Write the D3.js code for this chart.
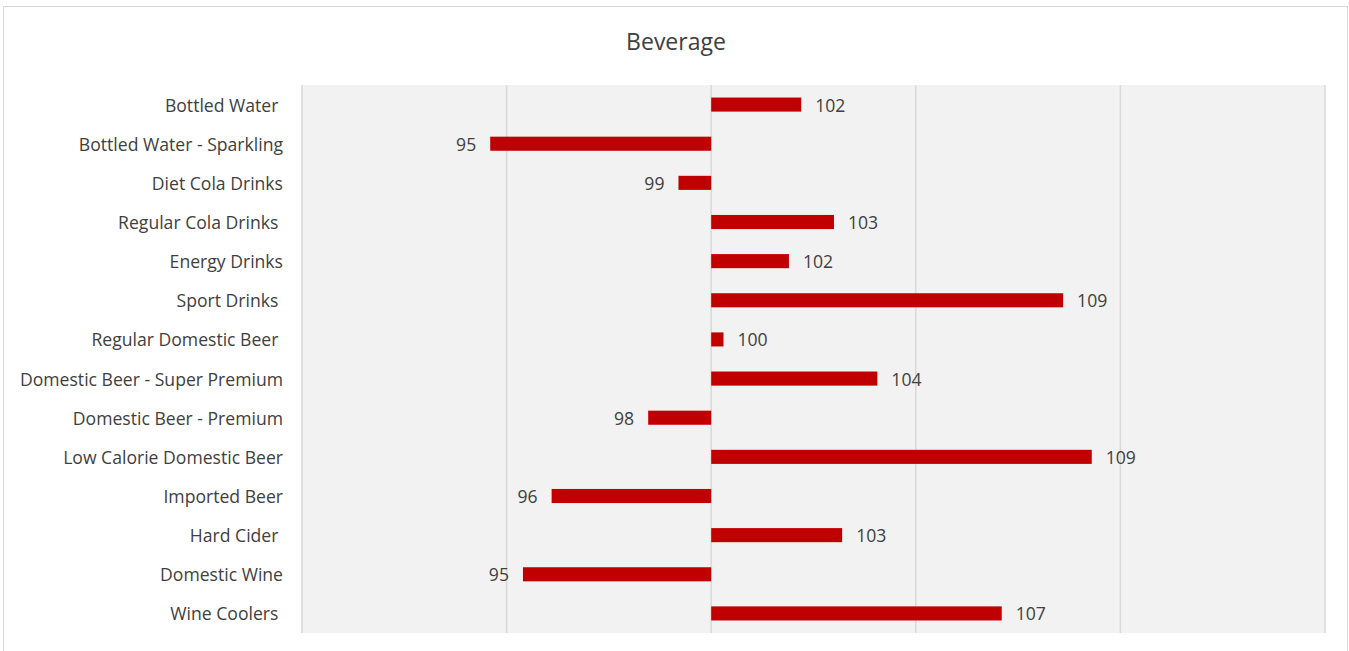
<!DOCTYPE html>
<html><head><meta charset="utf-8">
<script src="https://cdn.jsdelivr.net/npm/d3@7"></script>
<style>
html,body{margin:0;padding:0;background:#fff;}
svg{display:block;}
text{font-family:"Open Sans",sans-serif;fill:#404040;white-space:pre;}
</style></head>
<body>
<svg id="c" width="1349" height="651"></svg>
<script>
const categories = ["Bottled Water ","Bottled Water - Sparkling","Diet Cola Drinks","Regular Cola Drinks ","Energy Drinks","Sport Drinks ","Regular Domestic Beer ","Domestic Beer - Super Premium","Domestic Beer - Premium","Low Calorie Domestic Beer","Imported Beer","Hard Cider ","Domestic Wine","Wine Coolers "];
const values = [102.2,94.6,99.2,103.0,101.9,108.6,100.3,104.06,98.46,109.3,96.1,103.2,95.4,107.1];
const gridTicks = [90,95,100,105,110,115];
const title = "Beverage";
const baseline = 100;

const svg = d3.select("#c");
svg.append("rect").attr("x",3.5).attr("y",6.5).attr("width",1344).attr("height",650).attr("fill","#fff").attr("stroke","#d9d9d9");

const m = {left:302, right:1325, top:85, bottom:633};
const x = d3.scaleLinear().domain([90,115]).range([m.left,m.right]);
const y = d3.scaleBand().domain(categories).range([m.top,m.bottom]).paddingInner(0.64).paddingOuter(0.32);

svg.append("rect").attr("x",m.left).attr("y",m.top).attr("width",m.right-m.left).attr("height",m.bottom-m.top).attr("fill","#f2f2f2");

svg.append("g").selectAll("line").data(gridTicks).join("line")
  .attr("x1",d=>x(d)).attr("x2",d=>x(d)).attr("y1",m.top).attr("y2",m.bottom)
  .attr("stroke","#d9d9d9").attr("stroke-width",1.5);

svg.append("text").attr("x",676).attr("y",50).attr("text-anchor","middle").attr("font-size",23).text(title);

const yAxis = svg.append("g").attr("transform",`translate(${m.left},0)`)
  .call(d3.axisLeft(y).tickSize(0).tickPadding(19));
yAxis.select(".domain").remove();
yAxis.selectAll("text").attr("font-size",17.6).attr("dy","0.4em").style("font-family","'Open Sans',sans-serif").attr("fill","#404040");

svg.append("g").selectAll("rect").data(categories).join("rect")
  .attr("x",(d,i)=>Math.min(x(values[i]),x(baseline)))
  .attr("width",(d,i)=>Math.abs(x(values[i])-x(baseline)))
  .attr("y",d=>y(d)).attr("height",y.bandwidth())
  .attr("fill","#c00000");

const fmt = d3.format(".0f");
svg.append("g").selectAll("text").data(categories).join("text")
  .attr("x",(d,i)=>values[i]>=baseline ? x(values[i])+14 : x(values[i])-14)
  .attr("y",d=>y(d)+y.bandwidth()/2).attr("dy","0.4em")
  .attr("text-anchor",(d,i)=>values[i]>=baseline?"start":"end")
  .attr("font-size",17.6).text((d,i)=>fmt(values[i]));
</script>
</body></html>
